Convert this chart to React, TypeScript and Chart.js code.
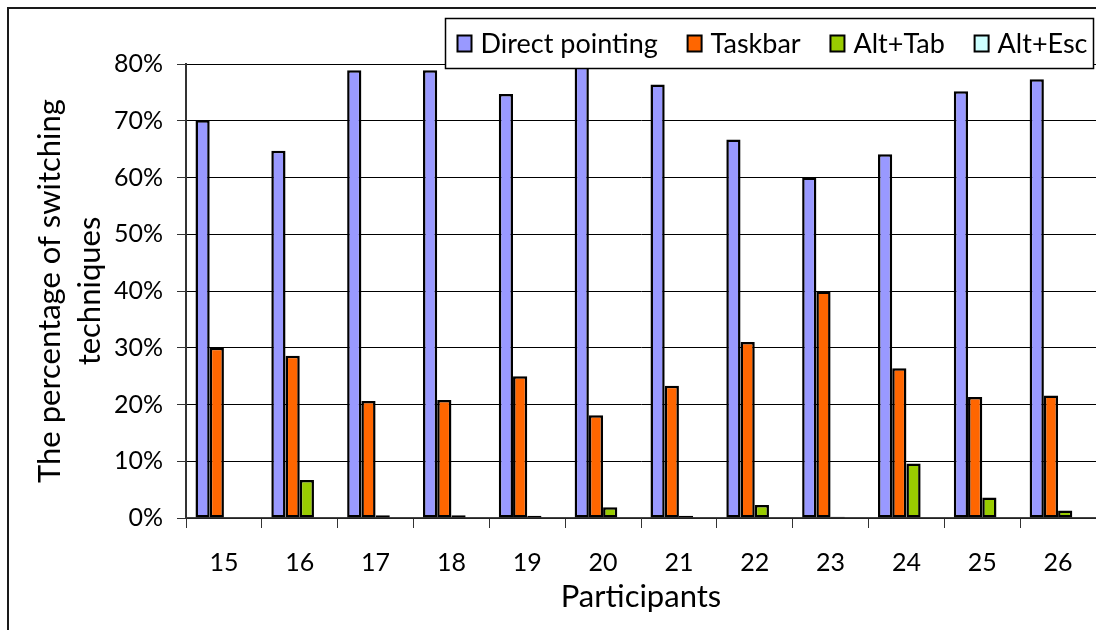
import React, { useEffect, useRef } from "react";
import { Chart, registerables } from "chart.js";

Chart.register(...registerables);

const participants = ["15", "16", "17", "18", "19", "20", "21", "22", "23", "24", "25", "26"];
const directPointing = [70.1, 64.7, 78.9, 78.9, 74.7, 80.0, 76.4, 66.7, 60.0, 64.1, 75.2, 77.3];
const taskbar = [30.0, 28.6, 20.6, 20.8, 25.0, 18.1, 23.3, 31.0, 39.9, 26.4, 21.3, 21.6];
const altTab = [0, 6.7, 0.5, 0.5, 0.4, 1.9, 0.4, 2.3, 0.2, 9.6, 3.6, 1.3];
const altEsc = [0, 0, 0, 0, 0, 0, 0, 0, 0, 0, 0, 0];
const seriesNames = ["Direct pointing", "Taskbar", "Alt+Tab", "Alt+Esc"];
const seriesColors = ["#9999FF", "#FF6600", "#99CC00", "#CCFFFF"];
const yTickValues = [0, 10, 20, 30, 40, 50, 60, 70, 80];
const yTitle = ["The percentage of switching", "techniques"];
const xTitle = "Participants";

const FONT = "Lato";

const overlayPlugin = {
  id: "overlay",
  afterDraw(chart: any) {
    const ctx = chart.ctx as CanvasRenderingContext2D;
    ctx.save();
    // outer frame (top and left edges visible)
    ctx.strokeStyle = "#1a1a1a";
    ctx.lineWidth = 2;
    ctx.beginPath();
    ctx.moveTo(8, 630);
    ctx.lineTo(8, 8);
    ctx.lineTo(1096, 8);
    ctx.stroke();

    // legend box
    const bx = 445.5, by = 18.5, bw = 648, bh = 50;
    ctx.fillStyle = "#ffffff";
    ctx.fillRect(bx, by, bw, bh);
    ctx.lineWidth = 1.5;
    ctx.strokeStyle = "#000";
    ctx.strokeRect(bx, by, bw, bh);

    ctx.font = `27px ${FONT}`;
    ctx.textBaseline = "middle";
    ctx.textAlign = "left";
    const ds = chart.data.datasets;
    const widths = ds.map((d: any) => ctx.measureText(d.label).width);
    const sw = 14, sh = 16, tg = 9;
    const padL = 12, padR = 6;
    const total = widths.reduce((a: number, b: number) => a + b, 0) + ds.length * (sw + tg);
    const gap = (bw - padL - padR - total) / (ds.length - 1);
    let x = bx + padL;
    const cy = by + bh / 2;
    ds.forEach((d: any, i: number) => {
      ctx.fillStyle = d.backgroundColor;
      ctx.fillRect(x, cy - sh / 2, sw, sh);
      ctx.lineWidth = 2;
      ctx.strokeStyle = "#000";
      ctx.strokeRect(x, cy - sh / 2, sw, sh);
      ctx.fillStyle = "#000";
      ctx.fillText(d.label, x + sw + tg, cy + 1);
      x += sw + tg + widths[i] + gap;
    });
    ctx.restore();
  },
};

export default function App() {
  const ref = useRef<HTMLCanvasElement | null>(null);
  useEffect(() => {
    if (!ref.current) return;
    const values = [directPointing, taskbar, altTab, altEsc];
    const chart = new Chart(ref.current, {
      type: "bar",
      data: {
        labels: participants,
        datasets: values.map((v, i) => ({
          label: seriesNames[i],
          data: v,
          backgroundColor: seriesColors[i],
          borderColor: "#000",
          borderWidth: 2.5,
          borderSkipped: false,
          categoryPercentage: 0.75,
          barPercentage: 1,
        })),
      },
      options: {
        responsive: false,
        animation: false,
        devicePixelRatio: 1,
        layout: { padding: { top: 64, right: 0, bottom: 0, left: 0 } },
        plugins: {
          legend: { display: false },
          tooltip: { enabled: false },
        },
        scales: {
          x: {
            afterFit: (s: any) => {
              s.height = 112;
            },
            ticks: {
              font: { family: FONT, size: 25 },
              color: "#000",
              padding: 20,
            },
            grid: {
              drawOnChartArea: false,
              drawTicks: true,
              tickLength: 10,
              color: "#333",
              offset: true,
            },
            border: { color: "#444", width: 1.5 },
            title: {
              display: true,
              text: xTitle,
              font: { family: FONT, size: 31, lineHeight: 1.2 },
              color: "#000",
              padding: { top: 0, bottom: 14 },
            },
          },
          y: {
            min: 0,
            max: 80,
            afterFit: (s: any) => {
              s.width = 186;
            },
            afterBuildTicks: (s: any) => {
              s.ticks = yTickValues.map((v) => ({ value: v }));
            },
            ticks: {
              callback: (v: any) => v + "%",
              font: { family: FONT, size: 25 },
              color: "#000",
              padding: 14,
            },
            grid: {
              color: "#000",
              lineWidth: 1,
              tickLength: 9,
              tickColor: "#333",
            },
            border: { color: "#333", width: 2 },
            title: {
              display: true,
              text: yTitle,
              font: { family: FONT, size: 31, lineHeight: 1.29 },
              color: "#000",
              padding: { top: 30, bottom: 0 },
            },
          },
        },
      },
      plugins: [overlayPlugin],
    });
    return () => chart.destroy();
  }, []);

  return (
    <div style={{ position: "fixed", left: 0, top: 0, width: 1096, height: 630, background: "#fff", overflow: "hidden" }}>
      <canvas ref={ref} width={1096} height={630} style={{ display: "block" }} />
    </div>
  );
}
